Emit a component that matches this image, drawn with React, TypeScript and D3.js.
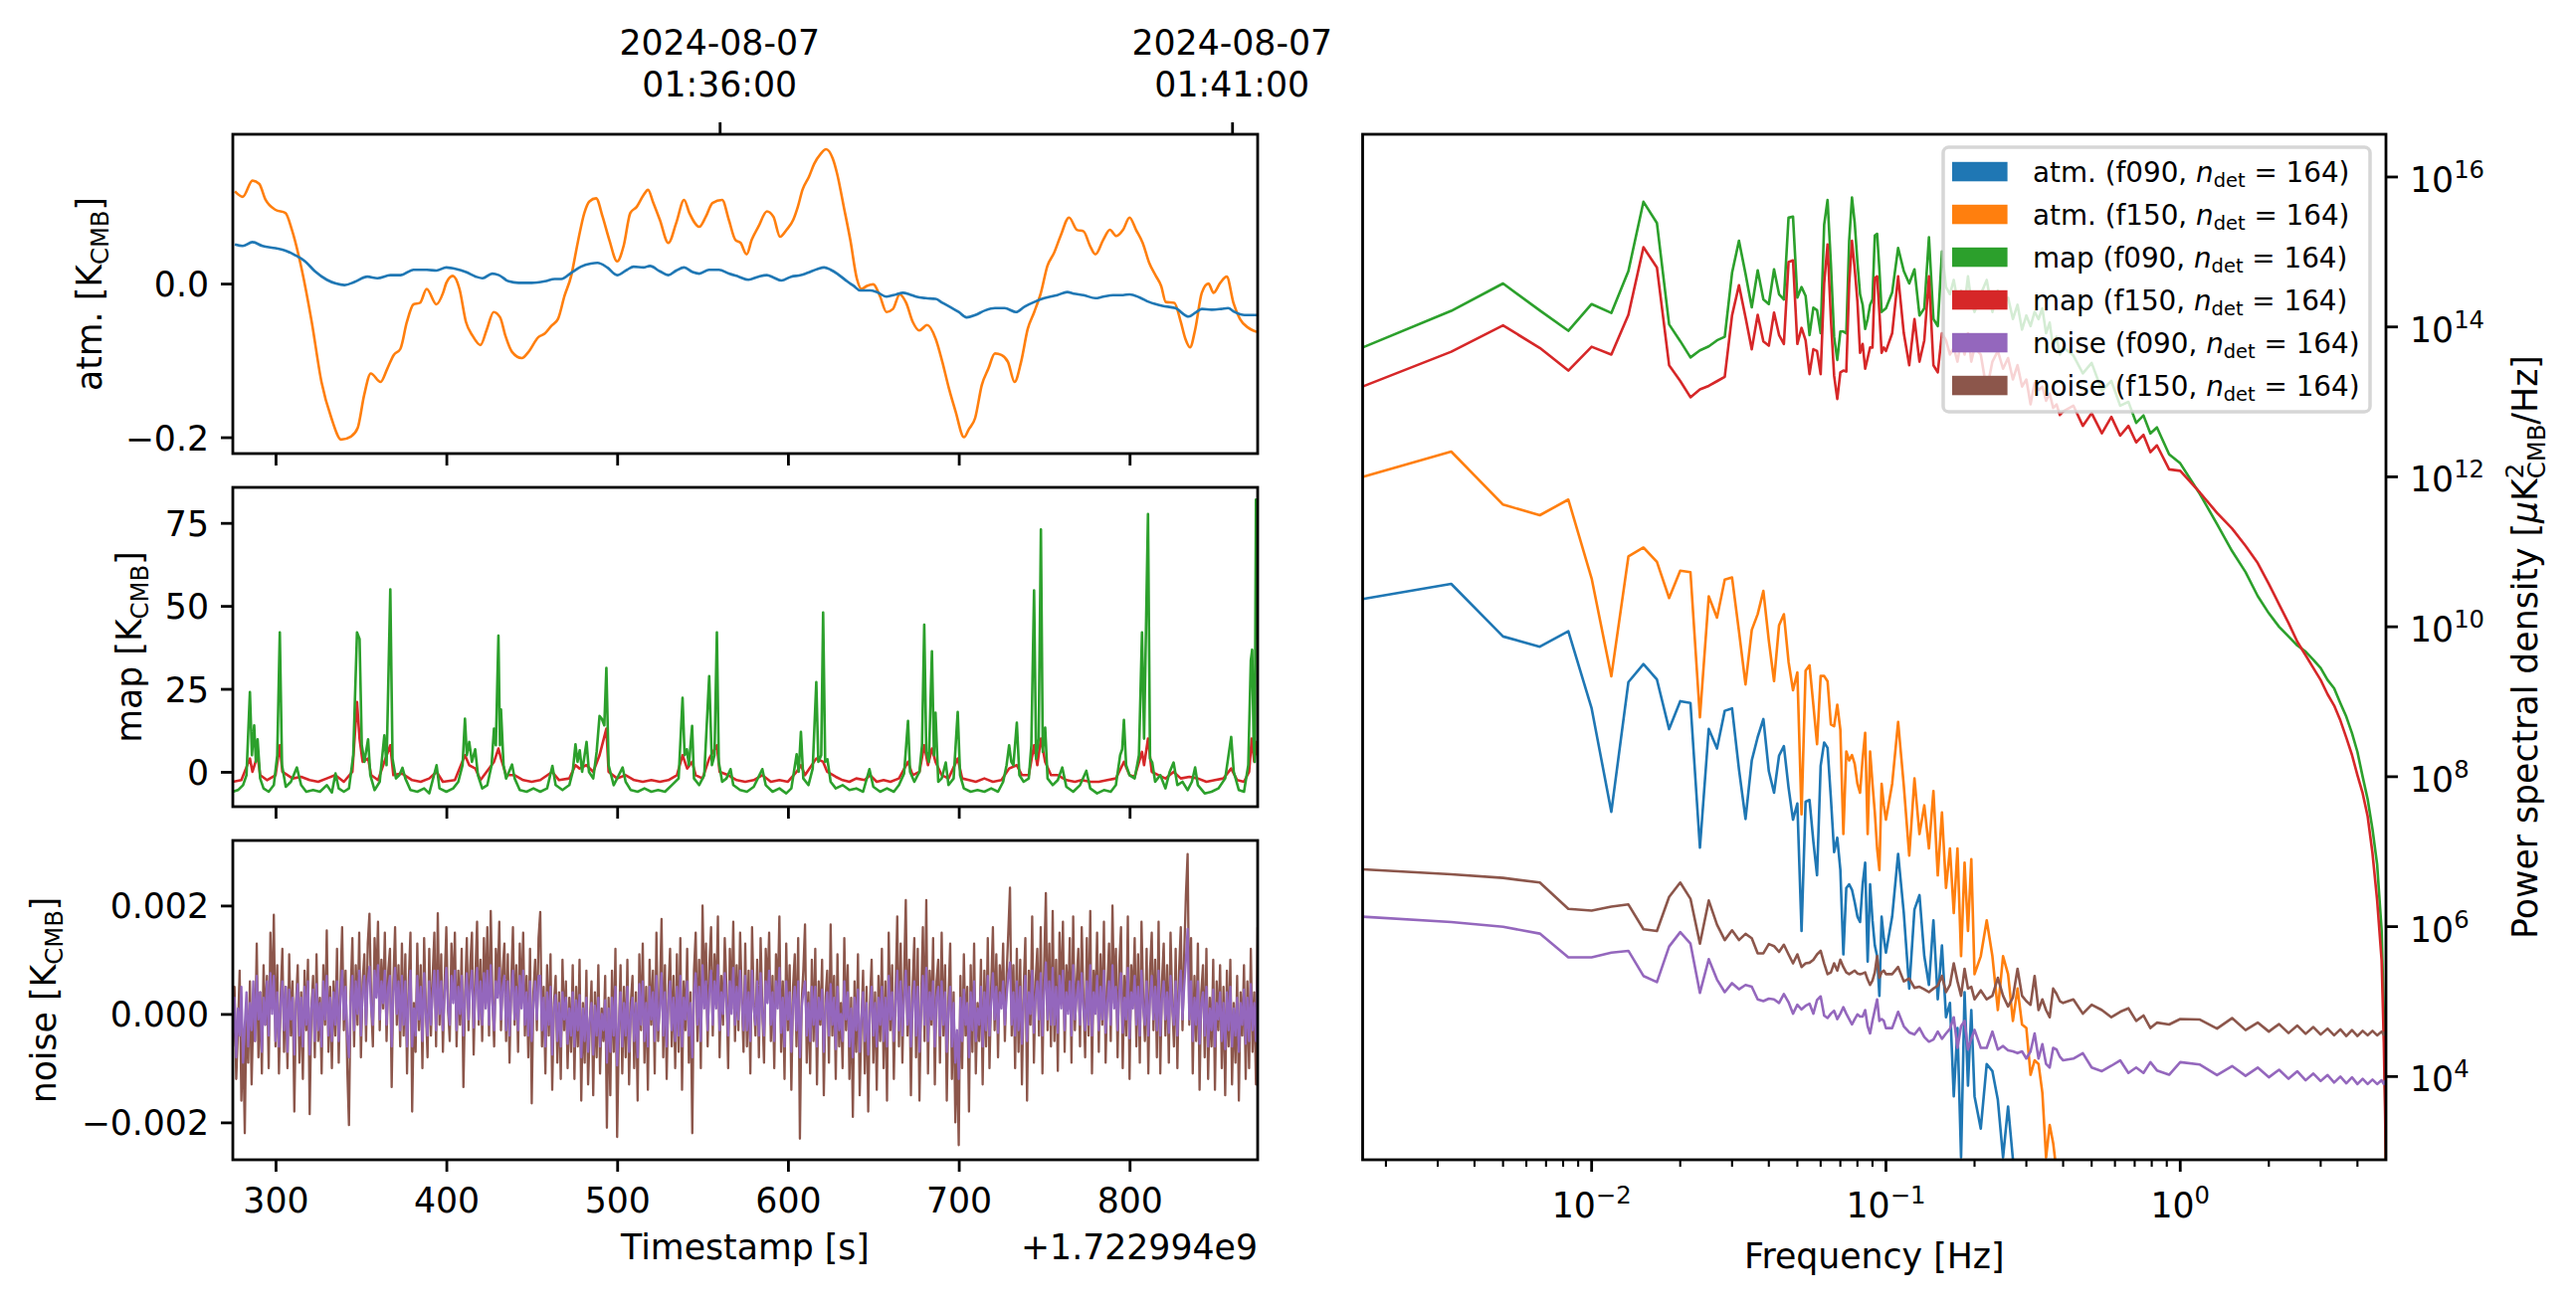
import React, { useEffect, useRef } from "react";
import * as d3 from "d3";

// time streams: seconds after 1.722994e9
// atm. in K_CMB, [t, value]
const atmF150: [number, number][] = [
  [276.2, 0.12], [280.8, 0.113], [286.5, 0.134], [290.4, 0.13], [294.2, 0.109], [300, 0.096], [305.8, 0.092], [309.6, 0.07],
  [315.4, 0.018], [321.2, -0.05], [326.9, -0.128], [332.7, -0.175], [338.5, -0.203], [344.2, -0.199], [348.1, -0.188], [351.9, -0.145],
  [355.8, -0.117], [361.5, -0.128], [365.4, -0.111], [369.2, -0.093], [373.1, -0.085], [376.9, -0.05], [380.8, -0.027], [384.6, -0.025],
  [388.5, -0.007], [394.2, -0.027], [398.1, -0.012], [400, 0.001], [403.8, 0.01], [407.7, -0.007], [411.5, -0.05], [415.4, -0.068],
  [420, -0.08], [423.8, -0.059], [427.7, -0.037], [431.5, -0.044], [434.6, -0.068], [438.5, -0.089], [444.2, -0.097], [448.1, -0.089],
  [453.8, -0.07], [457.7, -0.065], [461.5, -0.055], [465.4, -0.046], [469.2, -0.016], [473.1, 0.01], [476.9, 0.053], [480.8, 0.092],
  [483.8, 0.107], [487.7, 0.111], [491.5, 0.087], [495.4, 0.057], [500, 0.029], [503.8, 0.049], [507.7, 0.092], [511.5, 0.1],
  [515.4, 0.115], [518.1, 0.122], [521.2, 0.105], [525, 0.083], [530, 0.053], [534.6, 0.079], [539.2, 0.109], [542.3, 0.092],
  [548.1, 0.074], [551.9, 0.087], [555.8, 0.105], [561.5, 0.109], [565.4, 0.083], [569.2, 0.057], [572.3, 0.053], [575.8, 0.038],
  [578.8, 0.057], [582.7, 0.074], [587.7, 0.094], [591.5, 0.087], [595.4, 0.061], [599.2, 0.07], [603.1, 0.083], [605.8, 0.1],
  [608.5, 0.122], [612.3, 0.139], [615.4, 0.156], [619.2, 0.169], [622.3, 0.175], [626.2, 0.163], [628.8, 0.143], [632.7, 0.1],
  [636.5, 0.057], [640.4, 0.006], [643.1, -0.007], [646.2, -0.003], [650, -0.001], [653.8, -0.016], [657.7, -0.037], [661.5, -0.033],
  [665.4, -0.014], [669.2, -0.025], [673.1, -0.05], [676.9, -0.061], [681.5, -0.054], [686.5, -0.072], [690.4, -0.102], [694.2, -0.136],
  [698.1, -0.166], [703.1, -0.2], [705.8, -0.19], [709.6, -0.175], [713.5, -0.132], [717.3, -0.111], [721.2, -0.091], [725, -0.093],
  [728.8, -0.102], [732.7, -0.128], [736.5, -0.102], [740.4, -0.059], [744.2, -0.037], [748.1, -0.012], [751.9, 0.023], [755.8, 0.04],
  [759.6, 0.062], [764.6, 0.086], [769.2, 0.07], [773.1, 0.068], [776.9, 0.049], [780, 0.038], [784.6, 0.057], [788.5, 0.07],
  [792.3, 0.062], [796.2, 0.07], [800, 0.086], [803.8, 0.07], [807.7, 0.053], [811.5, 0.027], [815.4, 0.01], [818.5, -0.003],
  [821.2, -0.024], [826.2, -0.025], [830, -0.05], [832.7, -0.072], [835.4, -0.083], [838.5, -0.059], [842.3, -0.012], [846.2, 0],
  [849.2, -0.012], [853.1, 0.001], [856.9, 0.009], [860.8, -0.025], [864.6, -0.046], [869.2, -0.057], [872.3, -0.061], [875, -0.063],
];

const atmF090: [number, number][] = [
  [276.2, 0.051], [280.8, 0.049], [286.5, 0.054], [292.3, 0.049], [300, 0.046], [305.8, 0.043], [311.5, 0.037], [317.3, 0.029],
  [323.1, 0.016], [330, 0.005], [335.4, 0], [340.4, -0.002], [346.2, 0.002], [353.8, 0.009], [359.6, 0.007], [367.3, 0.011],
  [373.1, 0.011], [380.8, 0.018], [388.5, 0.018], [394.2, 0.017], [400, 0.021], [405.8, 0.019], [411.5, 0.015], [417.3, 0.009],
  [421.2, 0.007], [426.9, 0.013], [430.8, 0.011], [436.5, 0.003], [442.3, 0.001], [450, 0.001], [457.7, 0.003], [463.5, 0.006],
  [467.3, 0.006], [473.1, 0.014], [478.8, 0.022], [484.6, 0.026], [488.5, 0.027], [494.2, 0.021], [500, 0.011], [505.8, 0.018],
  [509.6, 0.022], [515.4, 0.021], [519.2, 0.023], [525, 0.016], [530, 0.011], [534.6, 0.017], [539.2, 0.021], [544.2, 0.015],
  [548.1, 0.013], [553.8, 0.018], [559.6, 0.018], [565.4, 0.013], [571.2, 0.009], [576.9, 0.005], [582.7, 0.009], [587.7, 0.011],
  [591.5, 0.008], [596.2, 0.004], [601.9, 0.009], [607.7, 0.011], [611.5, 0.014], [617.3, 0.019], [621.2, 0.021], [625, 0.018],
  [628.8, 0.013], [634.6, 0.003], [638.5, -0.003], [642.3, -0.009], [648.1, -0.009], [651.9, -0.011], [657.7, -0.017], [663.5, -0.014],
  [667.3, -0.012], [671.2, -0.014], [675, -0.017], [680.8, -0.019], [686.5, -0.02], [690.4, -0.025], [696.2, -0.032], [700, -0.037],
  [704.6, -0.044], [709.6, -0.041], [715.4, -0.035], [721.2, -0.032], [726.9, -0.032], [733.5, -0.037], [738.5, -0.03], [744.2, -0.024],
  [750, -0.019], [757.7, -0.015], [763.5, -0.011], [767.3, -0.013], [773.1, -0.015], [780, -0.019], [784.6, -0.017], [790.4, -0.015],
  [796.2, -0.015], [800, -0.014], [805.8, -0.018], [811.5, -0.024], [819.2, -0.029], [826.9, -0.032], [834.6, -0.043], [838.5, -0.038],
  [842.3, -0.033], [848.1, -0.034], [853.8, -0.033], [857.7, -0.032], [861.5, -0.037], [867.3, -0.041], [872.3, -0.041], [875, -0.041],
];

// map in K_CMB, [t, value]
const mapF090: [number, number][] = [
  [275, -6], [278, -5.5], [281, -4], [283, -1], [285, 24], [286.2, 5], [287.5, 14], [288.5, 3], [289.5, 9.8], [291, -2],
  [293, -5], [296, -6], [299, -4], [301, 5], [302.5, 42], [303.8, 2], [306, -4.5], [309, -3], [312.5, 1.3], [315, -4],
  [318, -6], [322, -5.5], [326, -6], [330, -4], [333, -6.2], [335.1, -0.5], [337, -5], [340, -6], [343, -5], [345.5, 5],
  [347.7, 42], [349.2, 40], [350.5, 8], [352, 3], [354.2, 9.8], [355.5, -1], [358, -5.5], [361, -3], [363.7, 11], [365, 2],
  [367.2, 55], [368.5, 4], [370.5, -2], [372.5, -1], [374.3, 1.2], [376, -2], [379, -5.5], [383, -6], [387, -5], [390, -6.5],
  [394.3, 2], [396, -5], [400, -6], [404, -5], [407, -3], [409.5, 2], [410.9, 16], [412, 5], [413.4, 9], [415, 3],
  [416.9, 6.8], [418.5, -1], [421, -5], [424, -4], [426.5, 2], [427.9, 13], [429, 8], [430.5, 41], [431.4, 8], [432, 18.8],
  [433.5, 2], [435, -2], [438.5, 2.2], [440, -2], [443, -5.5], [447, -6], [451, -5], [455, -6], [459, -5], [462.1, 1.8],
  [464, -4], [468, -5.5], [472, -4], [474, 0], [475.6, 8.3], [476.8, 3], [478.1, 6.5], [479.5, 0], [482.1, 9], [483.5, 0],
  [486, -2], [488, 6], [489.7, 16.8], [491, 16], [492.5, 14], [493.7, 31.3], [495, 2], [498, -4], [500, -2], [503.2, 1.3],
  [505, -3], [508, -5.5], [512, -6], [516, -5], [520, -6], [524, -5.5], [528, -6], [532, -4], [536, -2], [538.3, 22.3],
  [539.5, 5], [540.8, 6.8], [542, 2], [543.9, 13.8], [545, -2], [548, -4], [551, -1], [553.9, 28.8], [555.5, 2], [557, 5],
  [558.4, 42], [559.5, 3], [561.5, -3], [564, -2], [566.4, 0.8], [568, -4], [572, -5.5], [576, -6], [580, -4.5], [585, 0.8],
  [587, -4], [591, -6], [595, -5], [599, -6.5], [602, -5], [605.1, 5.3], [606.3, 0], [607.6, 12], [609, -2], [612, -4],
  [614.5, 1], [616.6, 27], [617.8, 3], [619.5, 5], [620.6, 48], [621.8, 3], [623.1, 3.8], [625, -3], [628, -5], [632, -4],
  [636, -5.5], [640, -5], [644, -6], [647.7, 0.8], [650, -4.5], [654, -6], [658, -5], [662, -6], [665, -4], [668, -0.5],
  [670.3, 15.3], [671.5, 0], [674, -3], [677, 0], [678.5, 8], [679.8, 44.3], [681, 6], [682.5, 3], [684.3, 36.3], [685.5, 5],
  [686.4, 17.8], [688, -3], [690, -2], [692.4, 2.8], [694, -4], [697, -2], [699.4, 18], [700.8, -1], [703, -5], [707, -6],
  [711, -5.5], [715, -6], [719, -5], [723, -6], [726, -3], [728, 2], [729.5, 8], [730.8, 3], [732, 2], [734, 14.8],
  [735.5, -1], [738, -3], [741, -2], [742.5, 8], [744.1, 54.7], [745.3, 4], [746.8, 10], [748.1, 73], [749.2, 6], [750.6, 13.3],
  [752, -2], [755, -4], [758, -2.5], [760.6, 1.3], [763, -4.5], [767, -6], [771, -4], [774.7, 0.3], [777, -5], [781, -6.5],
  [785, -5.5], [789, -6], [792, -4], [794.5, 5], [795.7, 6.8], [796.7, 15.6], [798, 2], [800, -1], [803, -2], [805.5, 5],
  [807.3, 42], [808.5, 10], [810.8, 77.7], [812, 4], [813.3, 2.8], [815, -3], [818, -1], [821, -5], [823.5, 0], [825.8, 2.8],
  [828, -4], [831, -3], [834, -5.5], [836.5, -3], [838.4, 1.3], [840, -4], [844, -6.5], [848, -6], [852, -5], [856, -2],
  [859.5, 10.5], [861, 0], [864, -5.5], [867, -6], [869.5, 2], [871, 33.6], [871.8, 36.8], [872.6, 10], [873.3, 3], [874, 82],
  [874.6, 40],
];

const mapF150: [number, number][] = [
  [275, -3], [280, -2.5], [285, 4], [286.5, 0], [289.5, 5], [291, -1], [295, -2.5], [300, -1], [302.5, 8], [304, 0],
  [310, -2], [315, -1.5], [320, -2.5], [325, -3], [330, -2], [335, -1], [340, -3], [345, 0], [347.7, 21], [349.2, 10],
  [351, 3], [354.2, 4], [356, -1], [360, -2.5], [363.7, 3], [367.2, 8], [369, -1], [374, -0.5], [380, -2.5], [385, -3],
  [390, -2], [394.3, 0], [398, -3], [405, -2.5], [410.9, 5], [413.4, 2], [417, 1], [420, -2.5], [427.9, 3], [430.5, 7],
  [432, 4], [435, -1], [440, -1], [445, -2.5], [450, -3], [455, -2.5], [462, 0], [466, -2.5], [472, -2], [475.6, 2],
  [478, 1], [482, 2], [486, 0], [489.7, 5], [493.7, 13], [495, 0], [500, -2], [505, -1], [510, -2.5], [515, -3],
  [520, -2.5], [525, -3], [530, -2.5], [535, -1], [538.3, 5], [541, 1], [543.9, 3], [546, -1], [550, -2], [553.9, 4],
  [558.4, 8], [560, 0], [565, -1], [570, -2.5], [575, -3], [580, -2.5], [585, -1], [590, -3], [595, -2.5], [600, -3],
  [605.1, 0], [607.6, 2], [610, -1], [616.6, 4], [620.6, 3], [623, 0], [628, -1.5], [632, -2.5], [636, -3], [640, -2],
  [645, -2.5], [648, -1], [652, -3], [656, -2.5], [660, -3], [665, -2], [670.3, 3], [673, -1], [677, 0], [679.8, 8],
  [682, 2], [684.3, 7], [686.4, 3], [690, -1], [694, -2], [699.4, 4], [702, -2], [706, -2.5], [710, -3], [715, -2],
  [720, -3], [725, -2.5], [729.5, 1], [734, 2], [737, -1], [741, -1], [744.1, 8], [746, 2], [748.1, 10], [750.6, 3],
  [754, -1], [758, -1], [763, -2.5], [768, -3], [772, -2.5], [777, -3], [782, -3], [787, -2.5], [792, -2], [796.7, 3],
  [800, -1], [803, -1.5], [807.3, 6], [808.5, 2], [810.8, 10], [813, 0], [817, -1], [821, -2], [825.8, 0], [830, -2],
  [835, -1.5], [840, -2], [845, -3], [850, -2.5], [855, -2], [859.5, 1], [863, -2.5], [867, -3], [870, 0], [871.5, 10],
  [873, 3], [874, 9], [874.6, 5],
];

// noise streams, one sample per second from t = 275 s, values in mK_CMB
const noiseT0 = 275;
const noiseDt = 1;
const noiseF150 = [
  -0.6, 0.5, -1.2, -0.3, 0.8, -1.6, -0.4, -2.2, 0.2, -0.9, 0.6, -1.3, 0.1, -0.5, 1.3, -0.8, 0.4, -1.1, 0.9, -0.2,
  0.7, -1.0, 1.5, 0.1, 1.83, -0.6, 0.9, -1.1, 0.3, 1.2, -0.7, 0.5, -1.0, 1.1, -0.4, 0.6, -1.8, 0.2, 0.9, -0.9,
  0.4, -1.2, 0.8, -0.3, 1.0, -1.85, 0.1, 0.7, -0.8, 1.1, -0.5, 0.3, -1.1, 0.9, -0.2, 1.54, -0.7, 0.5, -1.0, 0.6,
  -0.4, 1.2, -0.9, 0.5, 1.6, -0.3, 0.8, -1.0, -2.05, 0.4, 1.4, -0.6, 0.9, -0.2, 1.5, -0.8, 0.6, 1.1, -0.5, 1.3,
  1.85, 0.2, -0.6, 1.4, 0.5, 1.7, -0.3, 1.0, 0.1, 1.5, -0.5, 0.8, 1.2, -1.35, 0.6, 1.6, -0.2, 0.9, -0.6, 1.3,
  -0.4, 1.1, -1.1, 0.6, 1.5, -1.8, 0.2, -0.7, 1.3, -0.3, 0.9, -1.0, 1.4, 0.1, -0.8, 1.2, -0.4, 0.7, 1.5, -0.6,
  1.86, -0.2, 1.1, -0.7, 0.6, 1.6, 0.1, -0.5, 1.3, 0.3, 1.5, -0.6, 0.8, -0.2, 1.2, -1.35, 0.4, 1.4, -0.3, 0.9,
  1.5, -0.75, 0.7, 1.7, -0.2, 1.0, -0.5, 1.4, 0.2, 1.6, -0.4, 1.9, 0.3, -0.6, 1.2, 0.5, 1.7, -0.3, 0.8, 1.3,
  -0.5, 1.1, -0.9, 0.6, 1.6, -0.2, 0.9, -0.7, 1.3, 0.2, 1.5, -0.4, 0.7, -0.8, 1.2, -1.65, 0.4, 1.0, -0.3, 1.4,
  1.88, -0.6, 0.5, -1.1, 0.9, -0.4, 1.1, -1.4, 0.2, 0.7, -0.9, 0.4, -1.2, 1.0, -0.3, 0.6, -1.0, 0.3, -0.7, 0.9,
  -1.2, 0.5, -0.6, 1.0, -1.6, 0.2, -0.9, 0.8, -1.3, -0.2, 0.6, -1.5, 0.4, -0.8, 0.9, -1.1, 0.1, -0.5, 0.7, -2.1,
  0.3, -1.5, 0.8, -0.7, 1.2, -2.27, -0.4, 0.9, -1.1, 0.5, -0.8, 1.0, -1.3, 0.2, 0.7, -1.0, 0.4, -1.6, 1.1, -0.3,
  1.3, -0.9, 0.5, -1.4, 1.0, -0.2, 0.8, -1.1, 1.5, -0.5, 0.3, 1.75, -0.8, 0.9, -1.2, 0.4, 1.2, -0.6, 0.7, -1.0,
  1.1, -0.7, 1.4, -1.4, 0.6, -0.3, 1.2, -0.9, 0.4, -2.2, 0.8, 1.5, -0.5, 1.0, -1.0, 2.0, 0.3, 1.3, -0.6, 0.9,
  1.6, -0.4, 1.1, 0.2, 1.8, -0.8, 0.7, -0.2, 1.4, 0.5, -1.0, 1.2, 0.1, 1.7, -0.5, 0.9, -0.3, 1.5, 0.3, -0.7,
  1.3, -0.6, 0.8, -1.1, 1.6, 0.2, -0.4, 1.0, -0.8, 1.4, 0.1, -0.9, 1.2, 0.4, 1.5, -0.5, 0.7, -1.0, 1.1, 0.3,
  1.8, -0.7, 0.6, -1.2, 1.3, -0.3, 0.9, -1.4, 0.5, 1.1, -0.6, 1.4, -2.3, 0.2, 0.8, 1.65, -0.9, 0.4, -1.1, 1.0,
  -0.5, 1.2, -1.3, 0.6, -0.2, 1.0, -1.5, 0.3, 0.8, -0.9, 1.65, -0.4, 0.7, -1.2, 1.1, -0.6, 0.2, -1.0, 1.4, -0.3,
  0.9, -1.2, 0.3, -1.9, 0.6, -0.7, 1.1, -1.5, -0.2, 0.8, -1.1, 0.5, -1.8, 0.2, 1.0, -0.9, 0.4, -1.4, 0.7, -0.5,
  1.2, -1.0, 0.6, -1.6, 1.5, -0.3, 0.9, -1.2, 0.4, 1.8, -0.6, 1.3, -0.9, 0.7, 2.1, -0.4, 1.0, -1.5, 0.5, 1.4,
  -0.8, 1.2, -1.6, 0.3, 1.6, -0.5, 2.1, -1.1, 0.8, -0.2, 1.4, -1.3, 0.6, 1.0, -0.9, 1.5, -0.4, 0.9, -1.6, 0.3,
  1.3, -1.2, 0.4, -2.0, -0.6, -2.42, 0.7, -1.0, 1.1, -0.4, 0.5, -1.8, 0.9, -0.7, 1.3, -1.1, 0.2, -0.5, 1.0, -1.3,
  0.8, -0.6, 1.4, -1.0, 0.5, 1.6, -0.3, 1.1, -0.8, 0.9, 0.2, 1.3, -0.5, 0.7, 1.5, 2.33, -0.4, 0.9, -1.0, 1.2,
  -0.7, 1.0, -1.3, 0.5, 1.4, -1.6, 0.8, -0.2, 1.8, -0.9, 0.6, 1.2, -0.4, 1.6, -1.1, 0.9, 2.23, -0.3, 1.3, -0.6,
  1.9, -0.5, 1.0, -1.05, 1.5, 0.2, 1.7, -0.7, 0.9, 0.1, 1.4, -0.9, 1.8, -0.3, 0.6, 1.2, -0.6, 1.6, 0.3, -0.8,
  1.4, -0.4, 1.9, -1.1, 0.8, 0.1, 1.5, -0.7, 1.1, -0.2, 1.7, -0.9, 0.5, 1.3, -0.5, 2.0, 0.2, 1.2, -0.8, 0.9,
  1.6, -1.0, 0.7, -0.4, 1.8, -1.2, 0.9, 0.2, 1.4, -0.6, 1.1, -0.9, 1.7, 0.3, -0.5, 1.2, -1.1, 0.8, 1.5, -0.3,
  1.0, -0.8, 1.7, -1.1, 0.6, 1.3, -0.4, 0.9, -0.9, 1.5, 0.2, -0.6, 1.2, -1.0, 0.8, 1.6, -0.3, 1.1, 2.2, 2.95,
  -0.2, 1.4, -1.1, 0.7, -0.5, 1.3, -1.4, 0.4, 0.9, -0.8, 1.2, -1.2, 0.3, -0.6, 1.0, -1.4, 0.6, -0.3, 0.9, -1.0,
  0.5, -1.5, 0.8, -0.6, 1.0, -1.3, 0.2, -0.9, 0.7, -1.6, 0.4, -0.4, 0.9, -1.2, 0.6, -1.0, 1.2, -0.7, 0.4, -1.3,
  1.6,
];
const noiseF090 = [
  -0.5, 0.3, -0.8, 0.1, -0.4, 0.5, -0.9, -0.2, 0.4, -0.6, 0.2, -0.3, 0.6, -0.5, 0.7, -0.1, 0.4, -0.7, 0.3, -0.2,
  0.6, -0.4, 0.75, 0.0, 0.7, -0.5, 0.4, -0.6, 0.2, 0.6, -0.3, 0.5, -0.7, 0.45, -0.1, 0.3, -0.75, 0.2, 0.55, -0.4,
  0.3, -0.6, 0.5, -0.2, 0.6, -0.75, 0.1, 0.45, -0.5, 0.55, -0.3, 0.2, -0.6, 0.6, -0.1, 0.7, -0.4, 0.3, -0.5, 0.4,
  -0.2, 0.6, -0.5, 0.3, 0.8, -0.1, 0.5, -0.4, -0.8, 0.2, 0.7, -0.3, 0.6, 0.0, 0.8, -0.4, 0.4, 0.7, -0.2, 0.6,
  0.87, 0.1, -0.2, 0.8, 0.3, 0.9, -0.1, 0.6, 0.2, 0.8, -0.2, 0.5, 0.7, -0.6, 0.4, 0.85, 0.0, 0.6, -0.3, 0.7,
  -0.2, 0.6, -0.6, 0.3, 0.8, -0.6, 0.1, -0.4, 0.7, -0.1, 0.5, -0.5, 0.75, 0.0, -0.4, 0.6, -0.2, 0.4, 0.8, -0.3,
  0.8, 0.0, 0.6, -0.3, 0.4, 0.85, 0.1, -0.2, 0.7, 0.2, 0.8, -0.3, 0.5, 0.0, 0.7, -0.4, 0.3, 0.75, -0.1, 0.5,
  0.8, -0.25, 0.4, 0.85, -0.1, 0.6, -0.2, 0.75, 0.1, 0.8, -0.2, 0.9, 0.2, -0.3, 0.6, 0.3, 0.85, -0.1, 0.5, 0.7,
  -0.3, 0.6, -0.4, 0.4, 0.8, -0.1, 0.5, -0.3, 0.7, 0.1, 0.8, -0.2, 0.4, -0.4, 0.6, -0.5, 0.2, 0.6, -0.1, 0.7,
  0.7, -0.3, 0.3, -0.6, 0.4, -0.2, 0.5, -0.75, 0.1, 0.35, -0.5, 0.2, -0.6, 0.4, -0.1, 0.3, -0.55, 0.1, -0.4, 0.4,
  -0.6, 0.25, -0.3, 0.35, -0.8, 0.1, -0.5, 0.3, -0.7, -0.1, 0.2, -0.75, 0.15, -0.4, 0.3, -0.6, 0.0, -0.3, 0.25, -0.9,
  0.1, -0.7, 0.3, -0.4, 0.5, -0.95, -0.2, 0.4, -0.6, 0.2, -0.4, 0.5, -0.7, 0.0, 0.3, -0.5, 0.2, -0.8, 0.55, -0.2,
  0.6, -0.5, 0.2, -0.6, 0.5, -0.1, 0.4, -0.5, 0.7, -0.3, 0.1, 0.75, -0.4, 0.4, -0.6, 0.2, 0.6, -0.3, 0.3, -0.5,
  0.5, -0.4, 0.7, -0.6, 0.3, -0.1, 0.6, -0.4, 0.2, -0.8, 0.4, 0.75, -0.2, 0.5, -0.5, 0.9, 0.1, 0.6, -0.3, 0.4,
  0.8, -0.2, 0.6, 0.1, 0.9, -0.3, 0.4, 0.0, 0.75, 0.2, -0.4, 0.6, 0.0, 0.85, -0.2, 0.5, -0.1, 0.8, 0.2, -0.3,
  0.7, -0.3, 0.4, -0.5, 0.8, 0.1, -0.2, 0.6, -0.4, 0.75, 0.0, -0.4, 0.6, 0.2, 0.8, -0.2, 0.4, -0.5, 0.6, 0.1,
  0.85, -0.35, 0.3, -0.6, 0.6, -0.1, 0.4, -0.7, 0.2, 0.5, -0.3, 0.6, -0.8, 0.1, 0.4, 0.6, -0.4, 0.2, -0.5, 0.5,
  -0.2, 0.5, -0.6, 0.3, -0.1, 0.45, -0.7, 0.1, 0.4, -0.4, 0.55, -0.2, 0.3, -0.65, 0.5, -0.3, 0.0, -0.5, 0.6, -0.1,
  0.4, -0.6, 0.1, -0.8, 0.3, -0.3, 0.45, -0.7, -0.1, 0.4, -0.5, 0.2, -0.75, 0.0, 0.5, -0.4, 0.2, -0.6, 0.3, -0.2,
  0.5, -0.5, 0.3, -0.6, 0.7, -0.1, 0.4, -0.5, 0.2, 0.8, -0.3, 0.6, -0.4, 0.3, 0.8, -0.2, 0.5, -0.6, 0.2, 0.6,
  -0.4, 0.5, -0.7, 0.1, 0.7, -0.2, 0.85, -0.5, 0.4, -0.1, 0.6, -0.6, 0.3, 0.5, -0.4, 0.6, -0.2, 0.4, -0.7, 0.1,
  0.5, -0.6, 0.2, -0.9, -0.3, -1.2, 0.3, -0.5, 0.45, -0.2, 0.2, -0.8, 0.4, -0.3, 0.6, -0.5, 0.1, -0.2, 0.5, -0.6,
  0.4, -0.3, 0.7, -0.4, 0.2, 0.75, -0.1, 0.5, -0.35, 0.4, 0.1, 0.6, -0.2, 0.3, 0.7, 0.95, -0.2, 0.4, -0.4, 0.6,
  -0.3, 0.5, -0.55, 0.2, 0.7, -0.5, 0.4, 0.0, 0.8, -0.35, 0.3, 0.6, -0.1, 0.75, -0.4, 0.4, 0.95, -0.1, 0.6, -0.2,
  0.85, -0.2, 0.5, -0.35, 0.7, 0.1, 0.8, -0.3, 0.4, 0.0, 0.6, -0.4, 0.9, -0.1, 0.3, 0.6, -0.2, 0.75, 0.1, -0.3,
  0.6, -0.2, 0.9, -0.4, 0.4, 0.0, 0.7, -0.3, 0.5, -0.1, 0.8, -0.35, 0.2, 0.6, -0.2, 0.9, 0.1, 0.5, -0.3, 0.4,
  0.75, -0.35, 0.3, -0.1, 0.85, -0.45, 0.4, 0.1, 0.7, -0.2, 0.5, -0.4, 0.8, 0.1, -0.2, 0.6, -0.4, 0.3, 0.7, -0.1,
  0.5, -0.3, 0.8, -0.4, 0.3, 0.6, -0.1, 0.4, -0.35, 0.7, 0.1, -0.2, 0.6, -0.4, 0.4, 0.8, -0.1, 0.5, 1.0, 1.57,
  -0.1, 0.6, -0.5, 0.3, -0.2, 0.6, -0.55, 0.2, 0.4, -0.4, 0.5, -0.6, 0.1, -0.3, 0.45, -0.6, 0.2, -0.1, 0.4, -0.5,
  0.2, -0.65, 0.4, -0.3, 0.5, -0.6, 0.1, -0.4, 0.3, -0.7, 0.2, -0.2, 0.45, -0.55, 0.3, -0.5, 0.55, -0.3, 0.2, -0.5,
  0.7,
];

// PSD: FFT bin index k (f = k / 600 Hz), values are log10 of the PSD in uK^2/Hz
const psdBins = [
  1, 2, 3, 4, 5, 6, 7, 8, 9, 10, 11, 12, 13, 14, 15, 16, 17, 18, 19, 20,
  21, 22, 23, 24, 25, 26, 27, 28, 29, 30, 31, 32, 33, 34, 35, 36, 37, 38, 39, 40,
  41, 42, 43, 44, 45, 46, 47, 48, 49, 50, 51, 52, 53, 54, 55, 56, 57, 58, 59, 60,
  63, 66, 69, 72, 75, 78, 81, 84, 87, 90, 93, 96, 99, 102, 105, 108, 111, 114, 117, 120,
  126, 132, 138, 144, 150, 156, 162, 168, 174, 180, 186, 192, 198, 204, 210, 216, 222, 228, 234, 240,
  260, 280, 300, 325, 350, 375, 400, 425, 450, 475, 500, 550, 600,
  700, 800, 900, 1000, 1100, 1200, 1300, 1400, 1500, 1600, 1700, 1800, 1900, 2000, 2100, 2200, 2300, 2400, 2500, 2600,
  2700, 2800, 2900, 2950, 2980, 2995, 3000,
];
const N = null;
const psdAtmF090 = [
  10.369, 10.573, 9.871, 9.734, 9.942, 8.912, 7.532, 9.262, 9.502, 9.296,
  8.634, 9.008, 8.984, 7.053, 8.639, 8.376, 8.879, 8.912, 8.1, 7.436,
  8.217, 8.529, 8.769, 8.074, 7.786, 8.28, 8.409, 7.858, 7.427, 7.642,
  5.941, 7.666, 7.69, 7.139, 6.684, 8.146, 8.457, 8.385, 7.714, 6.995,
  7.187, 6.756, 5.629, 6.516, 6.564, 6.492, 6.324, 6.133, 6.061, 6.564,
  6.852, 5.534, 6.564, 6.085, 5.749, 5.606, 5.078, 6.133, 5.845, 5.654,
  6.133, 6.971, 6.181, 5.174, 6.229, 6.42, 5.606, 5.222, 6.085, 5.03,
  5.749, 4.791, 4.983, 3.737, 4.647, 2.922, 5.126, 3.88, 4.887, 3.737,
  3.305, 4.168, 4.072, 3.689, 2.92, 3.6, 2.9, 2.6, N, N,
  N, N, N, N, N, N, N, N, N, N,
  N, N, N, N, N, N, N, N, N, N, N, N, N,
  N, N, N, N, N, N, N, N, N, N, N, N, N, N, N, N, N, N, N, N,
  N, N, N, N, N, N, N,
];
const psdAtmF150 = [
  11.998, 12.337, 11.63, 11.488, 11.697, 10.644, 9.34, 10.938, 11.057, 10.867,
  10.383, 10.748, 10.729, 8.793, 10.407, 10.122, 10.63, 10.658, 9.94, 9.231,
  9.957, 10.17, 10.478, 9.814, 9.275, 10.02, 10.168, 9.535, 9.152, 9.392,
  7.498, 9.416, 9.487, 8.96, 8.433, 9.344, 9.344, 9.272, 8.697, 8.673,
  8.96, 8.625, 7.235, 8.337, 8.217, 8.289, 8.17, 7.906, 7.786, 8.241,
  8.586, 7.235, 8.337, 7.906, 7.523, 7.043, 6.756, 7.906, 7.618, 7.427,
  7.906, 8.73, 7.882, 6.947, 7.978, 7.235, 7.618, 7.043, 7.81, 6.684,
  7.523, 6.516, 7.043, 6.181, 7.043, 5.606, 6.852, 5.941, 6.9, 5.366,
  5.606, 6.085, 5.606, 4.887, 5.606, 5.366, 4.743, 5.174, 4.695, 4.647,
  4.024, 4.216, 4.168, 3.784, 2.922, 3.353, 3.113, 2.73, N, N,
  N, N, N, N, N, N, N, N, N, N, N, N, N,
  N, N, N, N, N, N, N, N, N, N, N, N, N, N, N, N, N, N, N, N,
  N, N, N, N, N, N, N,
];
const psdMapF090 = [
  13.726, 14.214, 14.58, 14.22, 13.949, 14.305, 14.186, 14.746, 15.67, 15.386,
  14.034, 13.811, 13.593, 13.688, 13.74, 13.821, 13.868, 14.722, 15.149, 14.708,
  14.262, 14.755, 14.366, 14.305, 14.769, 14.437, 14.366, 15.457, 15.471, 14.39,
  14.532, 14.414, 13.892, 14.257, 14.224, 13.916, 15.362, 15.694, 14.84, 13.868,
  13.56, 13.939, 13.939, 13.916, 15.149, 15.727, 15.386, 14.864, 14.437, 14.295,
  13.973, 14.105, 14.295, 14.366, 15.22, 15.243, 14.769, 14.2, 14.224, 14.248,
  14.461, 15.054, 14.746, 14.58, 14.769, 14.153, 14.248, 15.196, 14.105, 14.011,
  15.006, 14.532, 14.437, 14.627, 14.343, 14.485, 14.295, 14.674, 14.343, 14.2,
  14.437, 14.627, 14.2, 14.485, 14.295, 14.39, 14.105, 14.295, 13.963, 14.153,
  14.011, 14.2, 14.105, 14.248, 13.916, 14.058, 13.726, 13.868, 13.631, 13.726,
  13.62, 13.38, 13.52, 13.15, 13.28, 12.95, 13.0, 12.72, 12.82, 12.58, 12.66, 12.3, 12.18,
  11.77, 11.37, 11.01, 10.73, 10.41, 10.18, 10.0, 9.87, 9.75, 9.67, 9.56, 9.45, 9.29, 9.18, 8.98, 8.8, 8.58, 8.33, 8.0, 7.7,
  7.3, 6.83, 5.95, 4.8, 3.8, 3.0, 1.0,
];
const psdMapF150 = [
  13.205, 13.669, 14.02, 13.72, 13.418, 13.736, 13.631, 14.162, 15.063, 14.793,
  13.489, 13.28, 13.062, 13.167, 13.214, 13.276, 13.333, 14.153, 14.556, 14.13,
  13.702, 14.162, 13.807, 13.75, 14.191, 13.892, 13.773, 14.864, 14.888, 13.773,
  13.987, 13.821, 13.37, 13.702, 13.679, 13.37, 14.58, 15.101, 14.105, 13.347,
  13.039, 13.394, 13.418, 13.404, 14.58, 15.149, 14.769, 14.343, 13.655, 13.773,
  13.442, 13.584, 13.726, 13.726, 14.651, 14.674, 14.2, 13.655, 13.726, 13.679,
  13.916, 14.674, 13.916, 13.489, 14.105, 13.537, 13.821, 14.674, 13.489, 13.394,
  13.916, 13.821, 13.631, 13.726, 13.537, 13.821, 13.631, 13.916, 13.537, 13.726,
  13.631, 13.157, 13.537, 13.679, 13.442, 13.584, 13.299, 13.489, 13.205, 13.299,
  12.967, 13.252, 13.157, 13.205, 13.015, 13.11, 12.92, 12.967, 12.825, 12.873,
  12.95, 12.68, 12.85, 12.58, 12.8, 12.55, 12.68, 12.46, 12.56, 12.33, 12.42, 12.1, 12.08,
  11.79, 11.52, 11.31, 11.08, 10.85, 10.57, 10.3, 10.05, 9.8, 9.62, 9.45, 9.29, 9.1, 8.95, 8.75, 8.52, 8.29, 8.02, 7.78, 7.47,
  6.98, 6.35, 5.55, 4.45, 3.5, 2.9, 1.0,
];
const psdNoiseF090 = [
  6.133, 6.061, 5.998, 5.907, 5.591, 5.591, 5.653, 5.677, 5.342, 5.26,
  5.735, 5.927, 5.773, 5.117, 5.567, 5.294, 5.126, 5.246, 5.165, 5.222,
  5.198, 5.03, 5.006, 5.04, 5.03, 4.982, 5.102, 4.992, 4.839, 4.958,
  4.896, 4.944, 4.973, 4.839, 5.021, 5.069, 4.815, 4.781, 4.839, 4.877,
  4.767, 4.839, 4.925, 4.839, 4.767, 4.695, 4.767, 4.829, 4.801, 4.801,
  4.887, 4.671, 4.575, 4.743, 4.887, 5.03, 4.743, 4.767, 4.743, 4.647,
  4.647, 4.863, 4.671, 4.589, 4.561, 4.647, 4.527, 4.465, 4.494, 4.599,
  4.503, 4.575, 4.637, 4.791, 4.383, 4.671, 4.743, 4.36, 4.503, 4.623,
  4.383, 4.383, 4.599, 4.36, 4.407, 4.35, 4.336, 4.312, 4.336, 4.24,
  4.336, 4.575, 4.24, 4.431, 4.168, 4.12, 4.383, 4.36, 4.264, 4.216,
  4.24, 4.312, 4.12, 4.072, 4.144, 4.216, 4.048, 4.12, 4.048, 4.192, 4.082, 4.024, 4.192,
  4.16, 4.02, 4.14, 4.01, 4.12, 3.99, 4.09, 3.97, 4.07, 3.95, 4.04, 3.94, 4.02, 3.92, 4.0, 3.91, 3.99, 3.9, 3.97, 3.9,
  3.96, 3.9, 3.95, 3.9, 3.94, 3.92, 3.9,
];
const psdNoiseF150 = [
  6.765, 6.698, 6.65, 6.588, 6.238, 6.214, 6.267, 6.296, 5.965, 5.941,
  6.396, 6.588, 6.372, 5.773, 6.348, 6.027, 5.821, 5.951, 5.821, 5.903,
  5.845, 5.644, 5.644, 5.768, 5.74, 5.663, 5.759, 5.63, 5.51, 5.63,
  5.462, 5.51, 5.519, 5.558, 5.63, 5.677, 5.51, 5.366, 5.39, 5.51,
  5.414, 5.558, 5.462, 5.39, 5.366, 5.39, 5.414, 5.376, 5.366, 5.376,
  5.39, 5.294, 5.222, 5.28, 5.39, 5.606, 5.318, 5.39, 5.414, 5.366,
  5.366, 5.462, 5.27, 5.308, 5.184, 5.198, 5.165, 5.126, 5.174, 5.212,
  5.342, 5.126, 5.222, 5.51, 5.27, 5.078, 5.438, 5.174, 5.198, 5.03,
  5.15, 5.03, 5.078, 5.318, 5.078, 4.935, 5.054, 5.438, 5.078, 5.006,
  4.958, 5.342, 4.887, 5.03, 4.887, 4.791, 5.174, 5.102, 5.006, 4.982,
  5.03, 4.839, 4.958, 4.887, 4.791, 4.863, 4.911, 4.743, 4.815, 4.647, 4.719, 4.695, 4.767,
  4.76, 4.64, 4.78, 4.62, 4.72, 4.6, 4.7, 4.58, 4.68, 4.57, 4.66, 4.56, 4.64, 4.55, 4.63, 4.54, 4.62, 4.54, 4.61, 4.55,
  4.61, 4.55, 4.6, 4.56, 4.59, 4.57, 4.55,
];

const psdSeries = [psdAtmF090, psdAtmF150, psdMapF090, psdMapF150, psdNoiseF090, psdNoiseF150];
const seriesNames = ["atm.", "atm.", "map", "map", "noise", "noise"];
const seriesBands = ["f090", "f150", "f090", "f150", "f090", "f150"];
const nDet = 164;
const colors = ["#1f77b4", "#ff7f0e", "#2ca02c", "#d62728", "#9467bd", "#8c564b"];

const timeTicks = [300, 400, 500, 600, 700, 800];
const clockTicks = [560, 860];
const clockLabels = [["2024-08-07", "01:36:00"], ["2024-08-07", "01:41:00"]];
const psdYExponents = [4, 6, 8, 10, 12, 14, 16];

const W = 2589;
const H = 1309;
const FONT = "'DejaVu Sans', sans-serif";
const FS = 34.7;
const LFS = 27.8;
const LW = 2.6;

const App = () => {
  const ref = useRef<SVGSVGElement>(null);

  useEffect(() => {
    document.body.style.margin = "0";
    const svg = d3.select(ref.current);
    svg.selectAll("*").remove();

    const xT = d3.scaleLinear().domain([275, 875]).range([234, 1264]);
    const L = 234, R = 1264;

    const style = (g) => {
      g.attr("font-family", FONT).attr("font-size", FS);
      g.select(".domain").remove();
      g.selectAll("line").attr("stroke", "#000").attr("stroke-width", 2.8);
      g.selectAll("text").attr("fill", "#000");
    };

    const yLabel = (x, y, head, sub, tail) => {
      const t = svg.append("text")
        .attr("transform", `translate(${x},${y}) rotate(-90)`)
        .attr("text-anchor", "middle")
        .attr("font-family", FONT)
        .attr("font-size", FS);
      t.append("tspan").text(head);
      t.append("tspan").attr("font-size", FS * 0.7).attr("dy", 7).text(sub);
      t.append("tspan").attr("dy", -7).text(tail);
    };

    const panels = [
      { top: 135, bottom: 456, domain: [-0.2213, 0.1944], ticks: [-0.2, 0], fmt: ".1f", label: "atm. [K", lx: 102,
        series: [{ d: atmF150, c: colors[1] }, { d: atmF090, c: colors[0] }], curve: d3.curveMonotoneX, lw: LW },
      { top: 490, bottom: 811, domain: [-10.5, 85.7], ticks: [0, 25, 50, 75], fmt: "d", label: "map [K", lx: 142,
        series: [{ d: mapF150, c: colors[3] }, { d: mapF090, c: colors[2] }], curve: d3.curveLinear, lw: LW },
      { top: 845, bottom: 1166, domain: [-0.00269, 0.0032], ticks: [-0.002, 0, 0.002], fmt: ".3f", label: "noise [K", lx: 56,
        series: [
          { d: noiseF150.map((v, i) => [noiseT0 + i * noiseDt, v * 1e-3]), c: colors[5] },
          { d: noiseF090.map((v, i) => [noiseT0 + i * noiseDt, v * 1e-3]), c: colors[4] },
        ], curve: d3.curveLinear, lw: 2.3 },
    ];

    panels.forEach((p, pi) => {
      const y = d3.scaleLinear().domain(p.domain).range([p.bottom, p.top]);
      const clipId = `clip${pi}`;
      svg.append("clipPath").attr("id", clipId)
        .append("rect").attr("x", L).attr("y", p.top).attr("width", R - L).attr("height", p.bottom - p.top);
      const line = d3.line().x((d) => xT(d[0])).y((d) => y(d[1])).curve(p.curve);
      const g = svg.append("g").attr("clip-path", `url(#${clipId})`);
      p.series.forEach((s) => {
        g.append("path").attr("d", line(s.d)).attr("fill", "none").attr("stroke", s.c)
          .attr("stroke-width", p.lw).attr("stroke-linejoin", "round");
      });

      const gx = svg.append("g").attr("transform", `translate(0,${p.bottom})`)
        .call(d3.axisBottom(xT).tickValues(timeTicks).tickSize(12).tickPadding(16)
          .tickFormat(pi === 2 ? d3.format("d") : () => ""));
      style(gx);
      const gy = svg.append("g").attr("transform", `translate(${L},0)`)
        .call(d3.axisLeft(y).tickValues(p.ticks).tickSize(12).tickPadding(12).tickFormat(d3.format(p.fmt)));
      style(gy);
      gy.selectAll("text").attr("dy", "0.36em");

      svg.append("rect").attr("x", L).attr("y", p.top).attr("width", R - L).attr("height", p.bottom - p.top)
        .attr("fill", "none").attr("stroke", "#000").attr("stroke-width", 2.8);

      yLabel(p.lx, (p.top + p.bottom) / 2, p.label, "CMB", "]");
    });

    // clock axis on top of the atm. panel
    const gTop = svg.append("g").attr("transform", "translate(0,135)")
      .call(d3.axisTop(xT).tickValues(clockTicks).tickSize(12).tickFormat(() => ""));
    style(gTop);
    clockTicks.forEach((t, i) => {
      const tx = svg.append("text").attr("x", xT(t)).attr("text-anchor", "middle")
        .attr("font-family", FONT).attr("font-size", FS);
      tx.append("tspan").attr("x", xT(t)).attr("y", 55).text(clockLabels[i][0]);
      tx.append("tspan").attr("x", xT(t)).attr("y", 97).text(clockLabels[i][1]);
    });

    svg.append("text").attr("x", (L + R) / 2).attr("y", 1266).attr("text-anchor", "middle")
      .attr("font-family", FONT).attr("font-size", FS).text("Timestamp [s]");
    svg.append("text").attr("x", R).attr("y", 1266).attr("text-anchor", "end")
      .attr("font-family", FONT).attr("font-size", FS).text("+1.722994e9");

    // PSD panel
    const PL = 1369.5, PR = 2398, PT = 135, PB = 1166;
    const xF = d3.scaleLog().domain([1 / 600, 5]).range([PL, PR]);
    const yP = d3.scaleLog().domain([10 ** 2.89, 10 ** 16.57]).range([PB, PT]);
    svg.append("clipPath").attr("id", "clipPsd")
      .append("rect").attr("x", PL).attr("y", PT).attr("width", PR - PL).attr("height", PB - PT);
    const gp = svg.append("g").attr("clip-path", "url(#clipPsd)");
    const pline = d3.line()
      .defined((d) => d[1] != null)
      .x((d) => xF(d[0]))
      .y((d) => yP(10 ** d[1]));
    psdSeries.forEach((vals, si) => {
      const pts = psdBins.map((k, i) => [k / 600, vals[i]]);
      gp.append("path").attr("d", pline(pts)).attr("fill", "none").attr("stroke", colors[si])
        .attr("stroke-width", LW).attr("stroke-linejoin", "round");
    });

    // x ticks (log)
    const fTicks = xF.ticks().filter((v) => v >= 1 / 600 && v < 4.99);
    fTicks.forEach((v) => {
      const lg = Math.log10(v);
      const major = Math.abs(lg - Math.round(lg)) < 1e-6;
      svg.append("line").attr("x1", xF(v)).attr("x2", xF(v)).attr("y1", PB).attr("y2", PB + (major ? 12 : 7))
        .attr("stroke", "#000").attr("stroke-width", major ? 2.8 : 2.1);
      if (major) {
        const e = Math.round(lg);
        const t = svg.append("text").attr("x", xF(v)).attr("y", 1224).attr("text-anchor", "middle")
          .attr("font-family", FONT).attr("font-size", FS);
        t.append("tspan").text("10");
        t.append("tspan").attr("font-size", FS * 0.7).attr("dy", -14).text(e < 0 ? `\u2212${-e}` : `${e}`);
      }
    });
    psdYExponents.forEach((e) => {
      const yy = yP(10 ** e);
      svg.append("line").attr("x1", PR).attr("x2", PR + 12).attr("y1", yy).attr("y2", yy)
        .attr("stroke", "#000").attr("stroke-width", 2.8);
      const t = svg.append("text").attr("x", PR + 24).attr("y", yy + 15)
        .attr("font-family", FONT).attr("font-size", FS);
      t.append("tspan").text("10");
      t.append("tspan").attr("font-size", FS * 0.7).attr("dy", -14).text(`${e}`);
    });

    svg.append("rect").attr("x", PL).attr("y", PT).attr("width", PR - PL).attr("height", PB - PT)
      .attr("fill", "none").attr("stroke", "#000").attr("stroke-width", 2.8);

    svg.append("text").attr("x", (PL + PR) / 2).attr("y", 1275).attr("text-anchor", "middle")
      .attr("font-family", FONT).attr("font-size", FS).text("Frequency [Hz]");

    const rl = svg.append("text").attr("transform", `translate(2550,${(PT + PB) / 2}) rotate(-90)`)
      .attr("text-anchor", "middle").attr("font-family", FONT).attr("font-size", FS);
    rl.append("tspan").text("Power spectral density [");
    rl.append("tspan").attr("font-style", "italic").text("\u03bc");
    rl.append("tspan").text("K");
    rl.append("tspan").attr("font-size", FS * 0.7).attr("dy", -14).text("2");
    rl.append("tspan").attr("font-size", FS * 0.7).attr("dx", -15.5).attr("dy", 22).text("CMB");
    rl.append("tspan").attr("dy", -8).text("/Hz]");

    // legend
    const lg = svg.append("g");
    lg.append("rect").attr("x", 1953).attr("y", 148).attr("width", 429).attr("height", 266)
      .attr("rx", 5.6).attr("fill", "#fff").attr("fill-opacity", 0.8)
      .attr("stroke", "#cccccc").attr("stroke-opacity", 0.8).attr("stroke-width", 3.5);
    seriesNames.forEach((nm, i) => {
      const cy = 172.5 + i * 43;
      lg.append("rect").attr("x", 1962).attr("y", cy - 9.7).attr("width", 55.6).attr("height", 19.5)
        .attr("fill", colors[i]);
      const t = lg.append("text").attr("x", 2043).attr("y", cy + 10.5)
        .attr("font-family", FONT).attr("font-size", LFS);
      t.append("tspan").text(`${nm} (${seriesBands[i]}, `);
      t.append("tspan").attr("font-style", "italic").text("n");
      t.append("tspan").attr("font-size", LFS * 0.7).attr("dy", 5).text("det");
      t.append("tspan").attr("dy", -5).text(` = ${nDet})`);
    });
  }, []);

  return <svg ref={ref} width={W} height={H} style={{ display: "block", background: "#fff" }} />;
};

export default App;
